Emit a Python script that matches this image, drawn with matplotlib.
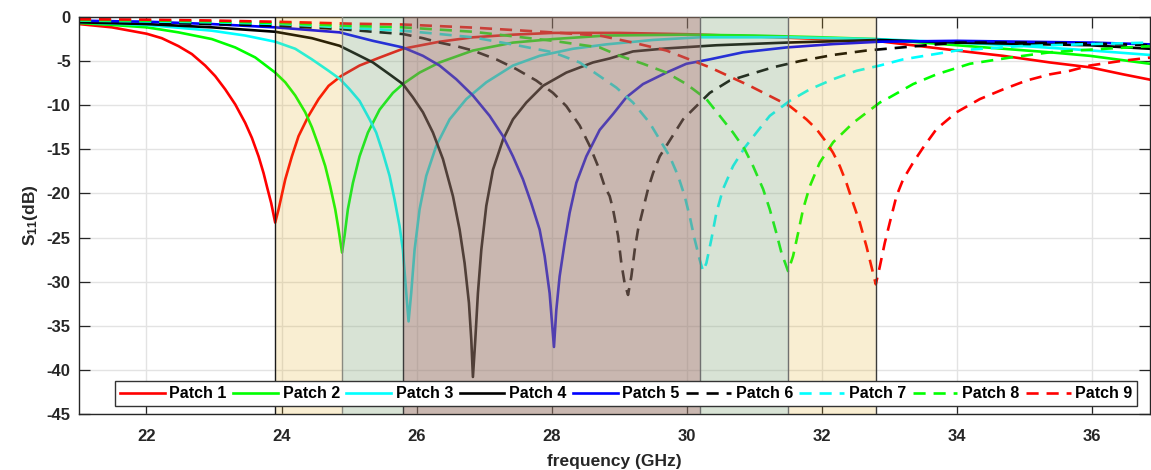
import matplotlib
matplotlib.use("Agg")
import matplotlib.pyplot as plt

plt.rcParams['font.family'] = ['Liberation Sans', 'DejaVu Sans']
plt.rcParams['font.weight'] = 'bold'
plt.rcParams['axes.unicode_minus'] = False
plt.rcParams['mathtext.fontset'] = 'custom'
plt.rcParams['mathtext.bf'] = 'Liberation Sans:bold'
plt.rcParams['mathtext.rm'] = 'Liberation Sans:bold'

# values (frequency in GHz, S11 in dB)
f1 = [21.0, 21.487, 22.005, 22.227, 22.474, 22.672, 22.869, 23.018, 23.166, 23.314, 23.462, 23.561,
      23.66, 23.734, 23.783, 23.847, 23.906, 23.956, 24.055, 24.153, 24.252, 24.4, 24.549, 24.697,
      24.88, 25.155, 25.452, 25.797, 26.34, 26.834, 27.427, 28.02, 29.0, 30.0, 31.0, 32.0, 32.8,
      33.995, 34.686, 35.378, 35.97, 36.464, 36.86]
s1 = [-0.8, -1.17, -1.9, -2.4, -3.3, -4.2, -5.5, -6.7, -8.2, -9.9, -12.0, -13.7,
      -15.8, -17.7, -19.2, -21.1, -23.3, -21.8, -18.4, -15.8, -13.5, -11.2, -9.3, -7.8,
      -6.7, -5.5, -4.6, -3.6, -2.8, -2.3, -2.0, -1.8, -1.8, -1.95, -2.2, -2.5, -2.7,
      -3.8, -4.4, -5.15, -5.7, -6.5, -7.1]

f2 = [21.0, 21.487, 22.005, 22.474, 22.968, 23.314, 23.61, 23.906, 24.055, 24.203, 24.351, 24.45,
      24.549, 24.647, 24.721, 24.795, 24.845, 24.896, 24.933, 24.982, 25.057, 25.155, 25.279, 25.452,
      25.649, 25.797, 26.044, 26.34, 26.834, 27.427, 28.02, 28.81, 30.0, 31.0, 32.0, 32.8, 34.0,
      35.378, 35.97, 36.86]
s2 = [-0.68, -0.9, -1.17, -1.74, -2.5, -3.45, -4.58, -6.3, -7.4, -8.9, -10.8, -12.5,
      -14.6, -16.9, -19.2, -21.8, -24.1, -26.7, -24.8, -21.8, -18.8, -15.8, -13.1, -10.5,
      -8.6, -7.6, -6.3, -5.15, -3.8, -2.9, -2.5, -2.1, -2.0, -2.1, -2.3, -2.5, -3.2,
      -4.0, -4.4, -5.3]

f3 = [21.0, 22.005, 22.968, 23.462, 23.906, 24.203, 24.45, 24.697, 24.86, 25.007, 25.155, 25.303,
      25.402, 25.501, 25.6, 25.674, 25.748, 25.797, 25.847, 25.881, 25.92, 25.97, 26.044, 26.143,
      26.291, 26.489, 26.736, 27.032, 27.427, 27.822, 28.316, 28.81, 29.5, 30.19, 31.5, 32.8, 34.0,
      35.0, 36.0, 36.86]
s3 = [-0.6, -0.9, -1.55, -2.1, -2.8, -3.6, -4.8, -6.1, -7.0, -8.18, -9.51, -11.59,
      -13.1, -15.4, -18.0, -20.7, -23.7, -26.4, -31.3, -34.5, -31.3, -26.4, -21.8, -18.0,
      -14.6, -11.6, -9.3, -7.4, -5.5, -4.4, -3.6, -3.1, -2.6, -2.3, -2.3, -2.5, -2.9,
      -3.3, -3.8, -4.3]

f4 = [21.0, 22.005, 22.968, 23.906, 24.45, 24.859, 25.106, 25.353, 25.6, 25.797, 25.945, 26.094,
      26.242, 26.39, 26.538, 26.637, 26.711, 26.775, 26.81, 26.834, 26.869, 26.908, 26.958, 27.032,
      27.131, 27.279, 27.427, 27.624, 27.871, 28.217, 28.612, 28.859, 29.205, 29.699, 30.44, 31.476,
      32.859, 34.0, 35.97, 36.86]
s4 = [-0.6, -0.8, -1.17, -1.67, -2.4, -3.26, -4.2, -5.15, -6.5, -7.6, -9.1, -10.8,
      -13.1, -16.1, -20.3, -24.1, -27.9, -32.4, -36.6, -40.8, -36.6, -31.3, -26.4, -21.4,
      -17.3, -13.9, -11.6, -9.7, -7.8, -6.3, -5.15, -4.7, -3.9, -3.56, -3.2, -2.9,
      -2.6, -2.9, -3.2, -3.6]

f5 = [21.0, 22.005, 22.968, 23.906, 24.859, 25.353, 25.797, 26.094, 26.34, 26.587, 26.834, 27.081,
      27.279, 27.427, 27.575, 27.698, 27.822, 27.896, 27.97, 28.034, 28.069, 28.118, 28.192, 28.266,
      28.365, 28.513, 28.711, 28.909, 29.106, 29.353, 29.699, 29.995, 30.341, 30.834, 31.476, 32.168,
      32.859, 34.0, 35.0, 36.0, 36.86]
s5 = [-0.42, -0.53, -0.8, -1.17, -1.74, -2.7, -3.45, -4.4, -5.5, -7.05, -8.9, -11.2,
      -13.5, -15.8, -18.4, -21.1, -24.1, -27.1, -31.3, -37.4, -33.2, -29.4, -25.6, -22.2,
      -18.8, -15.8, -12.8, -11.0, -9.1, -7.6, -6.3, -5.3, -4.8, -4.0, -3.45, -3.07,
      -2.8, -2.7, -2.8, -2.9, -3.1]

f6 = [21.0, 22.0, 23.0, 24.0, 24.859, 25.353, 25.797, 26.094, 26.34, 26.587, 26.834, 27.18,
      27.476, 27.772, 28.02, 28.217, 28.415, 28.563, 28.686, 28.785, 28.859, 28.909, 28.983, 29.032,
      29.081, 29.131, 29.18, 29.23, 29.279, 29.353, 29.427, 29.501, 29.6, 29.699, 29.822, 29.946,
      30.143, 30.341, 30.637, 30.933, 31.279, 31.674, 32.168, 32.662, 33.995, 34.933, 35.97, 36.86]
s6 = [-0.5, -0.6, -0.8, -1.0, -1.36, -1.67, -1.93, -2.4, -2.9, -3.3, -3.8, -4.8,
      -5.9, -7.2, -8.6, -10.1, -12.3, -14.6, -16.9, -19.2, -20.3, -21.8, -24.8, -27.9,
      -30.2, -31.5, -29.4, -26.4, -24.1, -21.8, -19.5, -17.7, -15.8, -14.6, -13.1, -11.6,
      -10.1, -8.6, -7.2, -6.5, -5.7, -5.0, -4.3, -3.8, -2.9, -2.9, -3.0, -3.2]

f7 = [21.0, 22.0, 23.0, 24.0, 24.94, 25.797, 26.34, 26.834, 27.526, 28.02, 28.415, 28.711,
      28.958, 29.205, 29.452, 29.6, 29.748, 29.872, 29.97, 30.044, 30.118, 30.192, 30.242, 30.291,
      30.365, 30.439, 30.538, 30.686, 30.859, 31.032, 31.23, 31.526, 31.822, 32.168, 32.514, 32.859,
      33.205, 33.995, 34.933, 35.97, 36.86]
s7 = [-0.4, -0.5, -0.6, -0.8, -1.2, -1.55, -1.93, -2.3, -3.26, -4.0, -5.15, -6.7,
      -8.0, -9.7, -12.0, -13.9, -15.8, -18.0, -20.3, -22.6, -25.2, -27.5, -28.8, -27.9,
      -25.2, -22.2, -19.5, -16.9, -14.8, -13.1, -11.2, -9.5, -8.2, -7.05, -6.1, -5.5,
      -4.8, -3.8, -3.3, -3.07, -2.9]

f8 = [21.0, 22.0, 23.0, 24.0, 25.0, 25.797, 26.834, 28.02, 28.711, 29.007, 29.353, 29.699,
      29.995, 30.291, 30.489, 30.686, 30.859, 30.983, 31.131, 31.23, 31.328, 31.402, 31.501, 31.575,
      31.649, 31.723, 31.822, 31.97, 32.168, 32.464, 32.859, 33.007, 33.353, 33.699, 34.193, 34.785,
      35.378, 35.97, 36.86]
s8 = [-0.35, -0.4, -0.5, -0.7, -1.0, -1.17, -1.67, -2.7, -3.45, -4.4, -5.3, -6.3,
      -7.6, -9.3, -11.2, -13.1, -15.0, -16.9, -19.5, -21.8, -24.5, -26.7, -28.8, -27.1,
      -24.5, -21.8, -19.2, -16.5, -14.2, -12.0, -9.7, -9.1, -7.6, -6.5, -5.3, -4.6,
      -4.0, -3.7, -3.3]

f9 = [21.0, 22.0, 23.0, 24.0, 25.0, 25.8, 26.83, 27.92, 28.711, 29.205, 29.699, 30.341,
      30.933, 31.526, 31.773, 31.921, 32.069, 32.168, 32.267, 32.365, 32.464, 32.563, 32.662, 32.736,
      32.8, 32.859, 32.933, 33.007, 33.106, 33.205, 33.353, 33.501, 33.699, 33.995, 34.341, 34.686,
      35.032, 35.378, 35.674, 35.97, 36.415, 36.86]
s9 = [-0.25, -0.3, -0.4, -0.55, -0.75, -0.85, -1.2, -1.7, -2.1, -2.9, -3.8, -5.7,
      -7.8, -10.1, -11.6, -12.7, -14.2, -15.4, -16.9, -18.8, -21.1, -23.3, -26.0, -28.3,
      -30.3, -28.3, -25.6, -23.3, -20.3, -18.4, -16.5, -14.8, -12.7, -10.8, -9.3, -8.2,
      -7.2, -6.5, -6.1, -5.5, -5.0, -4.6]

labels = ['Patch 1', 'Patch 2', 'Patch 3', 'Patch 4', 'Patch 5',
          'Patch 6', 'Patch 7', 'Patch 8', 'Patch 9']
colors = ['#ff0000', '#00ff00', '#00ffff', '#000000', '#0000ff',
          '#000000', '#00ffff', '#00ff00', '#ff0000']
styles = ['-', '-', '-', '-', '-', '--', '--', '--', '--']
freqs = [f1, f2, f3, f4, f5, f6, f7, f8, f9]
s11 = [s1, s2, s3, s4, s5, s6, s7, s8, s9]

# shaded bands between the resonances
band_edges = [23.9, 24.9, 25.8, 30.2, 31.5, 32.8]
band_fill = [('#e1aa1e', 0.2), ('#80a576', 0.3), ('#99786a', 0.53), ('#80a576', 0.3), ('#e1aa1e', 0.2)]
edge_colors = ['#1a1a1a', '#8a8a80', '#3a3a3a', '#707070', '#707070', '#3a3a3a']

fig = plt.figure(figsize=(11.51, 4.70), dpi=100)
ax = fig.add_axes([0.0686, 0.1191, 0.9305, 0.8447])

for f, s, c, ls, lab in zip(freqs, s11, colors, styles, labels):
    ln, = ax.plot(f, s, color=c, linestyle=ls, lw=1.9, label=lab, zorder=2)
    if ls == '--':
        ln.set_dashes((4.6, 3.0))

for i in range(len(band_fill)):
    col, a = band_fill[i]
    ax.axvspan(band_edges[i], band_edges[i + 1], color=col, alpha=a, lw=0, zorder=3)
for x, ec in zip(band_edges, edge_colors):
    ax.axvline(x, color=ec, lw=1.0, zorder=3.5)

ax.set_xlim(21, 36.86)
ax.set_ylim(-45, 0)
ax.set_xticks([22, 24, 26, 28, 30, 32, 34, 36])
ax.set_yticks(range(-45, 1, 5))
ax.grid(True, color='#e3e3e3', lw=1.0, zorder=0)
ax.set_axisbelow(True)
ax.tick_params(direction='in', length=8, width=0.9, top=True, right=True,
               labelsize=12, colors='#262626', pad=6)
ax.tick_params(axis='x', pad=11)
for lbl in ax.get_xticklabels() + ax.get_yticklabels():
    lbl.set_fontweight('bold')
for sp in ax.spines.values():
    sp.set_color('#262626')
    sp.set_linewidth(1.0)

ax.set_xlabel('frequency (GHz)', fontsize=12.5, fontweight='bold', color='#262626', labelpad=7)
ax.set_ylabel(r'$\mathbf{S_{11}}$(dB)', fontsize=12.5, fontweight='bold', color='#262626', labelpad=5)

leg = ax.legend(loc='lower center', bbox_to_anchor=(0.511, 0.02), ncol=9,
                handlelength=2.8, handletextpad=0.3, columnspacing=0.4, borderpad=0.3,
                borderaxespad=0.0, fancybox=False, framealpha=1.0, edgecolor='#333333',
                prop={'weight': 'bold', 'size': 11.5})
leg.set_zorder(10)
leg.get_frame().set_linewidth(1.0)

fig.savefig('out.png', dpi=100)
